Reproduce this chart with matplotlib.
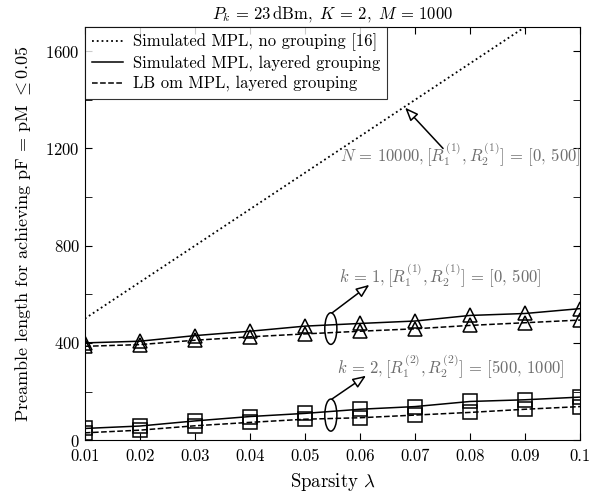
import numpy as np
import matplotlib
matplotlib.use('Agg')
import matplotlib.pyplot as plt
from matplotlib.patches import Ellipse
from matplotlib.ticker import MultipleLocator

plt.rcParams['font.family'] = 'serif'
plt.rcParams['font.serif'] = ['cmr10', 'DejaVu Serif']
plt.rcParams['mathtext.fontset'] = 'cm'
plt.rcParams['axes.formatter.use_mathtext'] = True
plt.rcParams['axes.unicode_minus'] = False

# sparsity values
lam = [0.01, 0.02, 0.03, 0.04, 0.05, 0.06, 0.07, 0.08, 0.09, 0.1]

# no grouping (dotted)
mpl_nogroup = [500, 650, 800, 950, 1100, 1250, 1400, 1550, 1700, 1850]

# layered grouping, k = 1 (triangles)
sim_k1 = [400, 407, 430, 448, 469, 480, 490, 513, 521, 541]
lb_k1 = [386, 393, 411, 425, 437, 448, 458, 472, 483, 494]

# layered grouping, k = 2 (squares)
sim_k2 = [48, 58, 79, 97, 110, 127, 138, 159, 166, 177]
lb_k2 = [30, 41, 59, 73, 86, 92, 103, 114, 127, 138]

fig = plt.figure(figsize=(5.98, 4.99), dpi=100)
ax = fig.add_axes([0.142, 0.118, 0.828, 0.828])

mk = dict(mfc='none', mec='black', mew=1.1)
ax.plot(lam, mpl_nogroup, ':', color='black', lw=1.3, label='Simulated MPL, no grouping [16]')
ax.plot(lam, sim_k1, '-', color='black', lw=1.1, label='Simulated MPL, layered grouping')
ax.plot(lam, lb_k1, '--', color='black', lw=1.1, label='LB om MPL, layered grouping')
ax.plot(lam, sim_k1, '^', ms=10.5, **mk)
ax.plot(lam, lb_k1, '^', ms=10.5, **mk)
ax.plot(lam, sim_k2, '-', color='black', lw=1.1)
ax.plot(lam, lb_k2, '--', color='black', lw=1.1)
ax.plot(lam, sim_k2, 's', ms=9.5, **mk)
ax.plot(lam, lb_k2, 's', ms=9.5, **mk)

# ellipses grouping the curves
ax.add_patch(Ellipse((0.0547, 459), 0.0022, 130, fill=False, ec='black', lw=1.1))
ax.add_patch(Ellipse((0.0547, 103), 0.0022, 132, fill=False, ec='black', lw=1.1))

arr = dict(arrowstyle='-|>,head_length=0.8,head_width=0.32', fc='white', ec='black',
           lw=1.1, shrinkA=0, shrinkB=0)
ax.annotate('', xy=(0.0682, 1368), xytext=(0.0751, 1200), arrowprops=arr)
ax.annotate('', xy=(0.0617, 639), xytext=(0.0549, 523), arrowprops=arr)
ax.annotate('', xy=(0.0611, 265), xytext=(0.0549, 169), arrowprops=arr)

gray = '#6e6e6e'
ax.text(0.0564, 1175, r'$N\,=\,10000, [R_1^{(1)}, R_2^{(1)}]\,=\,[0,\, 500]$', color=gray,
        fontsize=12, va='center', ha='left')
ax.text(0.0562, 676, r'$k\,=\,1, [R_1^{(1)}, R_2^{(1)}]\,=\,[0,\, 500]$', color=gray,
        fontsize=12, va='center', ha='left')
ax.text(0.0559, 303, r'$k\,=\,2, [R_1^{(2)}, R_2^{(2)}]\,=\,[500,\, 1000]$', color=gray,
        fontsize=12, va='center', ha='left')

ax.set_xlim(0.01, 0.1)
ax.set_ylim(0, 1700)
ax.set_xticks(lam)
ax.set_xticklabels(['0.01', '0.02', '0.03', '0.04', '0.05', '0.06', '0.07', '0.08', '0.09', '0.1'])
ax.yaxis.set_major_locator(MultipleLocator(400))
ax.yaxis.set_minor_locator(MultipleLocator(200))
ax.tick_params(which='both', direction='in', top=True, right=True, length=5, labelsize=12)
ax.tick_params(axis='x', pad=6)

ax.set_xlabel(r'Sparsity $\lambda$', fontsize=13.5, labelpad=5)
ax.set_ylabel(r'Preamble length for achieving pF = pM $\leq$0.05', fontsize=13, labelpad=9)
ax.set_title(r'$P_k\,=\,23\,\mathrm{dBm},\ K\,=\,2,\ M\,=\,1000$', fontsize=12, pad=6)

leg = ax.legend(loc='upper left', fontsize=12, frameon=True, fancybox=False,
                borderaxespad=0, handlelength=1.9, handletextpad=0.6,
                labelspacing=0.25, borderpad=0.4)
leg.get_frame().set_edgecolor('black')
leg.get_frame().set_linewidth(0.8)

fig.savefig('out.png', dpi=100)
